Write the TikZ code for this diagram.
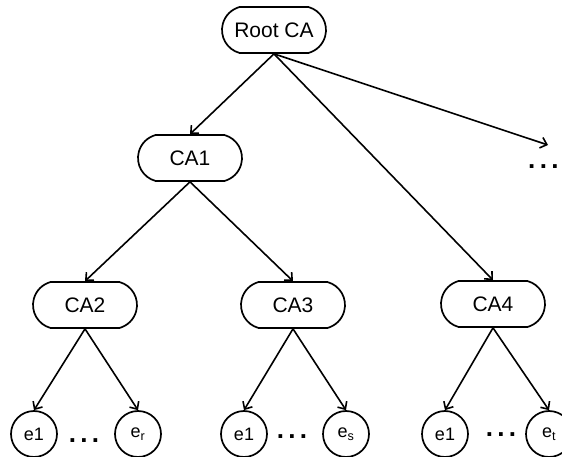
\documentclass[tikz,border=0pt]{standalone}
\usepackage{fontspec}
\setmainfont{Liberation Sans}
\usetikzlibrary{arrows.meta,shapes.misc}
\begin{document}
\begin{tikzpicture}[x=1pt,y=-1pt,
  ca/.style={draw,line width=1.7pt,rounded rectangle,rounded rectangle arc length=150,
    minimum width=104pt,minimum height=46pt,font=\fontsize{21}{23}\selectfont,inner sep=0pt},
  leaf/.style={draw,line width=1.7pt,circle,minimum size=46pt,inner sep=0pt,
    font=\fontsize{18}{20}\selectfont},
  edge/.style={line width=1.6pt,-{Straight Barb[length=6pt,width=11pt,line width=1.6pt]}},
  dots/.style={font=\fontsize{26}{26}\bfseries,inner sep=0pt}]
  \useasboundingbox (0,0) rectangle (562,457);
  % certificate authorities
  \node[ca] (root) at (274,30) {Root CA};
  \node[ca] (ca1) at (190,158) {CA1};
  \node[ca] (ca2) at (85,305) {CA2};
  \node[ca] (ca3) at (293,305) {CA3};
  \node[ca] (ca4) at (493,304) {CA4};
  \coordinate (more) at (548,145);
  % end entities
  \node[leaf] (a1) at (34,434) {e1};
  \node[leaf] (a2) at (138,434) {e\textsubscript{r}};
  \node[leaf] (b1) at (244,434) {e1};
  \node[leaf] (b2) at (346,434) {e\textsubscript{s}};
  \node[leaf] (c1) at (445,434) {e1};
  \node[leaf] (c2) at (549,434) {e\textsubscript{t}};
  % ellipses
  \node[dots] (da) at (84,441) {.\,.\,.};
  \node[dots] (db) at (292,437) {.\,.\,.};
  \node[dots] (dc) at (501,435) {.\,.\,.};
  \node[dots,anchor=west] (dm) at (528,167) {.\,.\,.};
  % links
  \draw[edge] (root.south) -- (ca1.north);
  \draw[edge] (root.south) -- (ca4.north);
  \draw[edge] (root.south) -- (more);
  \draw[edge] (ca1.south) -- (ca2.north);
  \draw[edge] (ca1.south) -- (ca3.north);
  \draw[edge] (ca2.south) -- (a1.north);
  \draw[edge] (ca2.south) -- (a2.north);
  \draw[edge] (ca3.south) -- (b1.north);
  \draw[edge] (ca3.south) -- (b2.north);
  \draw[edge] (ca4.south) -- (c1.north);
  \draw[edge] (ca4.south) -- (c2.north);
\end{tikzpicture}
\end{document}
